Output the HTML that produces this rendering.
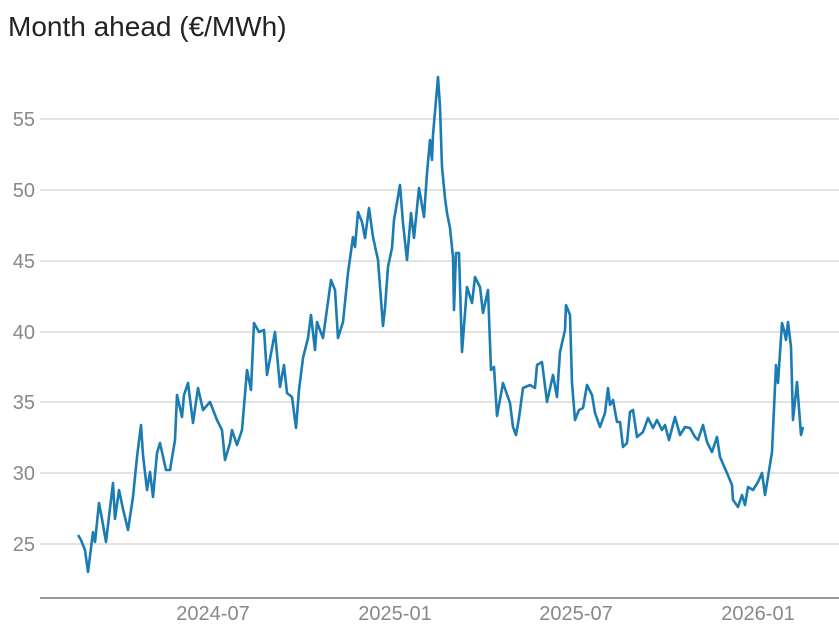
<!DOCTYPE html>
<html><head><meta charset="utf-8"><style>
html,body{margin:0;padding:0;background:#fff;}
svg{display:block;font-family:"Liberation Sans",sans-serif;}
</style></head><body>
<svg width="839" height="628" viewBox="0 0 839 628">
<text x="8" y="36" font-size="28" fill="#222">Month ahead (€/MWh)</text>
<g stroke="#d9d9d9" stroke-width="1.5">
<line x1="40" y1="119" x2="839" y2="119"/>
<line x1="40" y1="190" x2="839" y2="190"/>
<line x1="40" y1="261" x2="839" y2="261"/>
<line x1="40" y1="332" x2="839" y2="332"/>
<line x1="40" y1="402" x2="839" y2="402"/>
<line x1="40" y1="473" x2="839" y2="473"/>
<line x1="40" y1="544" x2="839" y2="544"/>
</g>
<g fill="#888" font-size="20" text-anchor="end">
<text x="35" y="126">55</text>
<text x="35" y="197">50</text>
<text x="35" y="268">45</text>
<text x="35" y="339">40</text>
<text x="35" y="409">35</text>
<text x="35" y="480">30</text>
<text x="35" y="551">25</text>
</g>
<line x1="40" y1="598" x2="839" y2="598" stroke="#999" stroke-width="2"/>
<g fill="#888" font-size="20" text-anchor="middle">
<text x="213" y="620">2024-07</text>
<text x="395" y="620">2025-01</text>
<text x="576" y="620">2025-07</text>
<text x="758" y="620">2026-01</text>
</g>
<polyline fill="none" stroke="#1b7bb3" stroke-width="2.6" stroke-linejoin="round" points="
78,535 81,540 85,550 88,572 93,532 95,542 99,503 102,519 106,542 113,483 115,519 119,490 123,509 128,530 133,497 137,457 141,425 143,455 147,490 150,472 153,497 157,453 160,443 166,470 170,470 175,440 177,395 182,417 184,395 188,383 193,423 198,388 203,410 210,402 217,420 222,430 225,460 230,443 232,430 237,445 242,430 247,370 251,390 254,323 259,332 264,330 267,375 275,332 280,387 284,365 287,393 292,397 296,428 299,390 303,358 308,338 311,315 315,350 317,322 323,338 331,280 335,290 338,338 343,322 348,273 353,237 355,247 358,212 362,222 365,238 369,208 373,237 378,260 383,326 385,308 388,267 392,248 394,220 400,185 403,223 407,260 411,213 414,238 419,188 424,217 427,173 430,140 432,160 433,135 438,77 440,107 442,167 445,198 447,213 450,228 453,257 454,310 456,253 459,253 462,352 467,287 472,303 475,277 480,287 483,313 488,290 491,370 494,367 497,416 503,383 510,403 513,427 516,435 519,418 523,388 530,385 535,388 537,365 542,362 547,402 553,375 557,397 560,352 565,330 566,305 570,315 572,383 575,420 579,410 583,408 587,385 592,395 595,413 600,427 605,413 608,388 610,405 613,400 617,422 620,422 623,447 627,443 630,412 633,410 637,437 643,432 648,418 653,428 657,420 662,430 665,425 669,440 675,417 680,435 685,427 690,428 695,437 698,440 703,425 707,442 712,452 717,437 720,457 727,473 732,485 733,500 738,507 742,495 745,505 748,487 753,490 758,482 762,473 765,495 768,477 772,452 776,365 778,383 782,323 784,330 786,340 788,322 791,347 793,420 797,382 801,435 803,427"/>
</svg>
</body></html>
